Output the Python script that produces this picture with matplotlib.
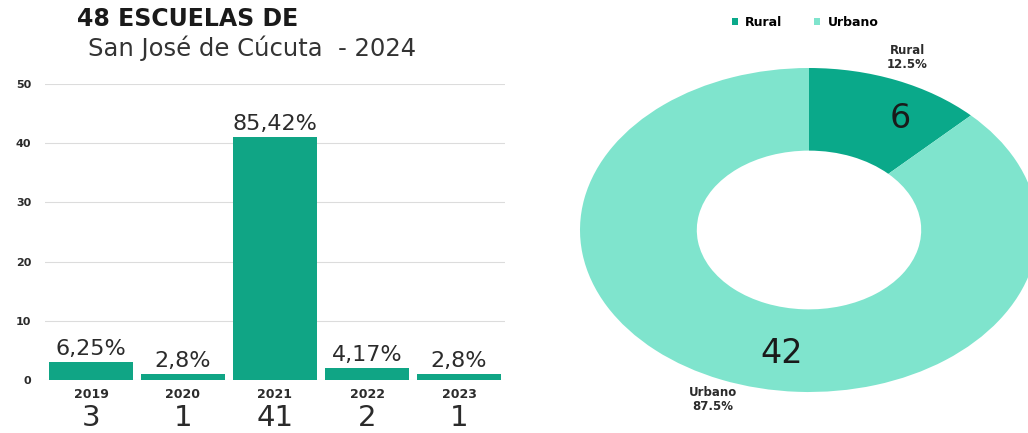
import matplotlib.pyplot as plt

years = ["2019", "2020", "2021", "2022", "2023"]
schools = [3, 1, 41, 2, 1]
pct_labels = ["6,25%", "2,8%", "85,42%", "4,17%", "2,8%"]
zones = ["Rural", "Urbano"]
zone_counts = [6, 42]
zone_pct = ["12.5%", "87.5%"]

bar_color = "#10a585"
zone_colors = ["#0aa98a", "#7fe4cd"]
text_color = "#2b2b2b"

plt.rcParams["font.family"] = ["DejaVu Sans"]

fig = plt.figure(figsize=(10.28, 4.33), dpi=100)

# bar chart
ax = fig.add_axes([45 / 1028, 53 / 433, 460 / 1028, 296 / 433])
x = range(len(years))
ax.bar(x, schools, width=0.92, color=bar_color, zorder=2)
ax.set_xlim(-0.5, 4.5)
ax.set_ylim(0, 50)
ax.set_yticks([0, 10, 20, 30, 40, 50])
ax.yaxis.grid(True, color="#dcdcdc", linewidth=0.8, zorder=0)
ax.tick_params(axis="y", length=0, pad=10, labelsize=8, labelcolor=text_color)
for lab in ax.get_yticklabels():
    lab.set_fontweight("bold")
ax.set_xticks([])
for s in ax.spines.values():
    s.set_visible(False)

for i, (v, p) in enumerate(zip(schools, pct_labels)):
    ax.text(i, v + 0.6, p, ha="center", va="bottom", fontsize=16, color=text_color)
    ax.text(i, -1.4, years[i], ha="center", va="top", fontsize=9,
            fontweight="bold", color=text_color)
    ax.text(i, -4.0, str(v), ha="center", va="top", fontsize=21, color=text_color)

fig.text(77 / 1028, 1 - 19 / 433, "48 ESCUELAS DE", fontsize=17, fontweight="heavy",
         color="#1a1a1a", va="center", ha="left")
fig.text(88 / 1028, 1 - 48 / 433, "San José de Cúcuta  - 2024", fontsize=17.5,
         color="#333333", va="center", ha="left")

# donut chart
ax2 = fig.add_axes([580 / 1028, 41 / 433, 458 / 1028, 324 / 433])
wedges, _ = ax2.pie(zone_counts, colors=zone_colors, startangle=90, counterclock=False,
                    radius=1, wedgeprops=dict(width=0.51, linewidth=0))
ax2.set_aspect("auto")
ax2.set_xlim(-1, 1)
ax2.set_ylim(-1, 1)

ax2.text(0.4, 0.69, str(zone_counts[0]), ha="center", va="center", fontsize=24,
         color="#1a1a1a", clip_on=False)
ax2.text(-0.12, -0.76, str(zone_counts[1]), ha="center", va="center", fontsize=24,
         color="#1a1a1a", clip_on=False)
ax2.text(0.43, 0.98, zones[0] + "\n" + zone_pct[0], ha="center", va="bottom",
         fontsize=8.5, fontweight="bold", color=text_color, clip_on=False,
         linespacing=1.1)
ax2.text(-0.42, -0.96, zones[1] + "\n" + zone_pct[1], ha="center", va="top",
         fontsize=8.5, fontweight="bold", color=text_color, clip_on=False,
         linespacing=1.1)

fig.legend(wedges, zones, loc="center", bbox_to_anchor=(805 / 1028, 1 - 22 / 433),
           ncol=2, frameon=False, handlelength=0.5, handleheight=0.5,
           columnspacing=2.5, handletextpad=0.6,
           prop=dict(weight="bold", size=9))

fig.savefig("out.png", dpi=100)
